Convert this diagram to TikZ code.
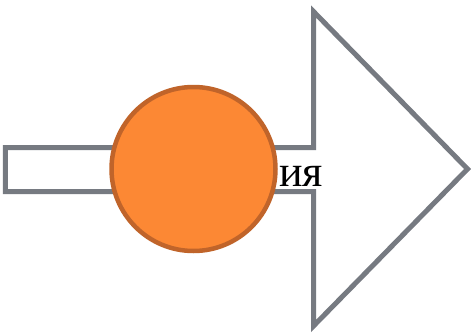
\documentclass[tikz,border=0pt]{standalone}
\usepackage{fontspec}
\setmainfont{Liberation Serif}
\definecolor{arrowgray}{RGB}{118,122,129}
\definecolor{circfill}{RGB}{252,136,52}
\definecolor{circline}{RGB}{192,100,42}
\tikzset{
  arrowshape/.style={draw=arrowgray, line width=5pt, fill=white, miter limit=10},
  disc/.style={circle, draw=circline, fill=circfill, line width=4.5pt, minimum size=164pt, inner sep=0pt},
  lbl/.style={font=\fontsize{44}{52}\selectfont, inner sep=0pt, text=black}
}
\begin{document}
\begin{tikzpicture}[x=1pt,y=-1pt]
\useasboundingbox (0,0) rectangle (471,332);
\draw[arrowshape] (5.3,147.5) -- (313.5,147.5) -- (313.5,11.5) -- (467.5,169) -- (313.5,326) -- (313.5,191.7) -- (5.3,191.7) -- cycle;
\node[lbl, anchor=base east] (t) at (323,186.5) {ия};
\node[disc] (c) at (193.5,169) {};
\end{tikzpicture}
\end{document}
